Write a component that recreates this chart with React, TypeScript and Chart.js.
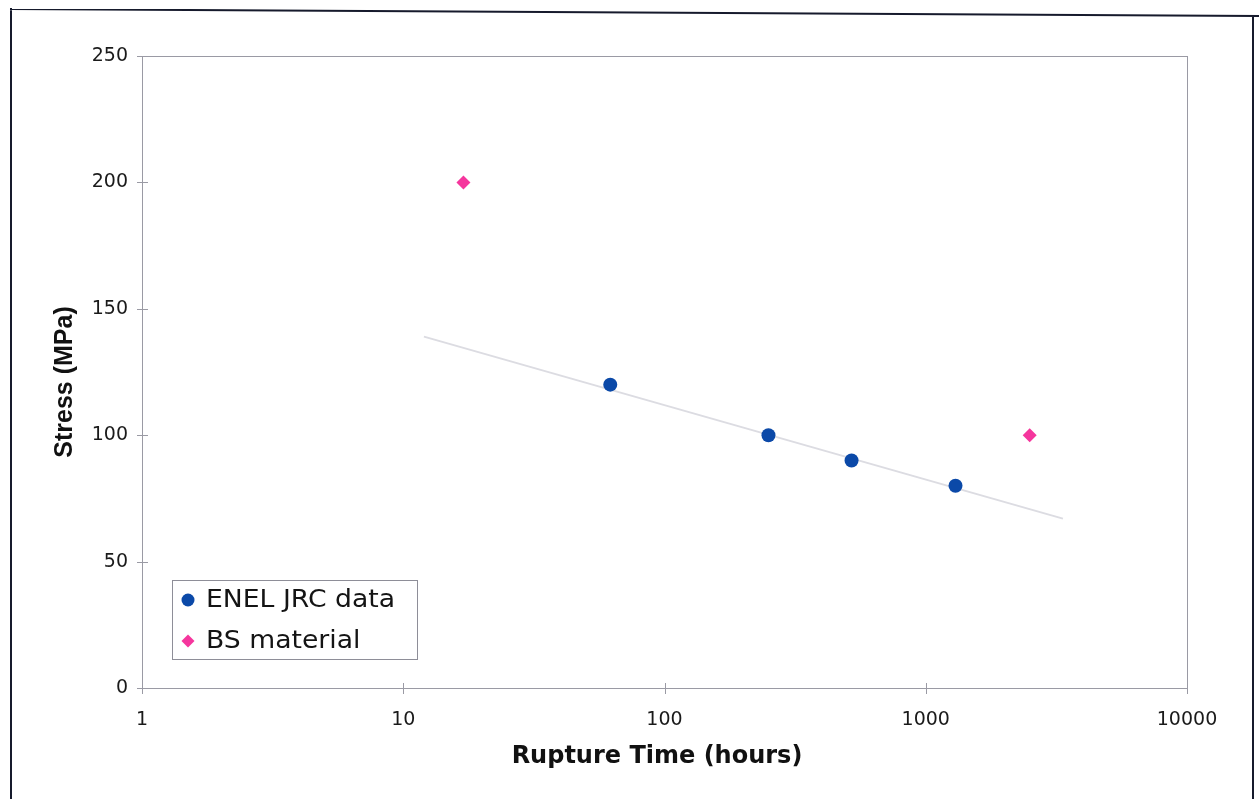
import React, { useEffect, useRef } from "react";
import { Chart, registerables } from "chart.js";

Chart.register(...registerables);

// ---- data ----
const xTickValues = [1, 10, 100, 1000, 10000];
const yTickValues = [0, 50, 100, 150, 200, 250];
const seriesNames = ["ENEL JRC data", "BS material"];
const enelTime = [62, 250, 520, 1300];
const enelStress = [120, 100, 90, 80];
const bsTime = [17, 2500];
const bsStress = [200, 100];
const trendTime = [12, 3350];
const trendStress = [139, 67];
const xTitle = "Rupture Time (hours)";
const yTitle = "Stress (MPa)";

const FONT = "'DejaVu Sans', 'Liberation Sans', sans-serif";
const ARIAL = "'Liberation Sans', Arial, sans-serif";
const BLUE = "#0b49a8";
const PINK = "#f5369d";
const AXIS = "#9a9aa4";

const toPoints = (xs: number[], ys: number[]) => xs.map((x, i) => ({ x, y: ys[i] }));

const framePlugin = {
  id: "framePlugin",
  afterDraw(chart: any) {
    const ctx = chart.ctx;
    const { left, right, top, bottom } = chart.chartArea;
    ctx.save();
    // plot border
    ctx.strokeStyle = AXIS;
    ctx.lineWidth = 1;
    ctx.strokeRect(left + 0.5, top + 0.5, right - left, bottom - top);
    // cross tick marks
    const xs = chart.scales.x;
    const ys = chart.scales.y;
    ctx.beginPath();
    xTickValues.forEach((v) => {
      const px = Math.round(xs.getPixelForValue(v)) + 0.5;
      ctx.moveTo(px, bottom - 5);
      ctx.lineTo(px, bottom + 6);
    });
    yTickValues.forEach((v) => {
      const py = Math.round(ys.getPixelForValue(v)) + 0.5;
      ctx.moveTo(left - 5, py);
      ctx.lineTo(left + 6, py);
    });
    ctx.stroke();

    // axis titles
    ctx.fillStyle = "#111111";
    ctx.textAlign = "center";
    ctx.textBaseline = "middle";
    ctx.font = `bold 24px ${FONT}`;
    ctx.fillText(xTitle, 657, 757);
    ctx.save();
    ctx.translate(65, 382);
    ctx.rotate(-Math.PI / 2);
    ctx.font = `bold 25px ${ARIAL}`;
    ctx.fillText(yTitle, 0, 0);
    ctx.restore();

    // legend box
    const lx = 172, ly = 580, lw = 245, lh = 79;
    ctx.fillStyle = "#ffffff";
    ctx.fillRect(lx, ly, lw, lh);
    ctx.strokeStyle = "#8e8e98";
    ctx.strokeRect(lx + 0.5, ly + 0.5, lw, lh);
    const rows = [600, 641];
    chart.data.datasets.slice(0, 2).forEach((ds: any, i: number) => {
      const cy = rows[i];
      const cx = 188;
      ctx.fillStyle = ds.backgroundColor;
      ctx.beginPath();
      if (ds.pointStyle === "rectRot") {
        const r = 6.5;
        ctx.moveTo(cx, cy - r);
        ctx.lineTo(cx + r, cy);
        ctx.lineTo(cx, cy + r);
        ctx.lineTo(cx - r, cy);
        ctx.closePath();
      } else {
        ctx.arc(cx, cy, 6.5, 0, Math.PI * 2);
      }
      ctx.fill();
      ctx.save();
      ctx.translate(206, cy + 1);
      ctx.scale(1.11, 1);
      ctx.fillStyle = "#141414";
      ctx.font = `24px ${FONT}`;
      ctx.textAlign = "left";
      ctx.textBaseline = "middle";
      ctx.fillText(ds.label, 0, 0);
      ctx.restore();
    });

    // outer frame
    ctx.strokeStyle = "#161a2c";
    ctx.lineWidth = 2;
    ctx.beginPath();
    ctx.moveTo(10, 9);
    ctx.lineTo(1259, 16);
    ctx.moveTo(11, 8);
    ctx.lineTo(11, 799);
    ctx.moveTo(1253, 15);
    ctx.lineTo(1253, 799);
    ctx.stroke();
    ctx.restore();
  },
};

const bgPlugin = {
  id: "bgPlugin",
  beforeDraw(chart: any) {
    const ctx = chart.ctx;
    ctx.save();
    ctx.fillStyle = "#ffffff";
    ctx.fillRect(0, 0, chart.width, chart.height);
    ctx.restore();
  },
};

export default function App() {
  const ref = useRef<HTMLCanvasElement | null>(null);

  useEffect(() => {
    if (!ref.current) return;
    const chart = new Chart(ref.current, {
      type: "scatter",
      data: {
        datasets: [
          {
            label: seriesNames[0],
            data: toPoints(enelTime, enelStress),
            backgroundColor: BLUE,
            borderColor: BLUE,
            pointStyle: "circle",
            pointRadius: 7,
            borderWidth: 0,
          },
          {
            label: seriesNames[1],
            data: toPoints(bsTime, bsStress),
            backgroundColor: PINK,
            borderColor: PINK,
            pointStyle: "rectRot",
            pointRadius: 7,
            borderWidth: 0,
          },
          {
            label: "trend",
            data: toPoints(trendTime, trendStress),
            showLine: true,
            borderColor: "#dcdce2",
            borderWidth: 2,
            pointRadius: 0,
            backgroundColor: "#dcdce2",
          },
        ],
      },
      options: {
        responsive: false,
        animation: false,
        layout: { padding: { left: 0, right: 72, top: 56, bottom: 0 } },
        plugins: {
          legend: { display: false },
          tooltip: { enabled: false },
        },
        scales: {
          x: {
            type: "logarithmic",
            min: 1,
            max: 10000,
            afterBuildTicks: (scale: any) => {
              scale.ticks = xTickValues.map((v) => ({ value: v }));
            },
            afterFit: (scale: any) => {
              scale.height = 111;
            },
            grid: { display: false, drawTicks: false },
            border: { display: false },
            ticks: {
              autoSkip: false,
              maxRotation: 0,
              padding: 21,
              color: "#1a1a1a",
              font: { family: FONT, size: 19 },
              callback: (v: any) => String(v),
            },
            title: { display: false },
          },
          y: {
            min: 0,
            max: 250,
            afterBuildTicks: (scale: any) => {
              scale.ticks = yTickValues.map((v) => ({ value: v }));
            },
            afterFit: (scale: any) => {
              scale.width = 142;
            },
            grid: { display: false, drawTicks: false },
            border: { display: false },
            ticks: {
              padding: 14,
              color: "#1a1a1a",
              font: { family: FONT, size: 19 },
              callback: (v: any) => String(v),
            },
            title: { display: false },
          },
        },
      },
      plugins: [bgPlugin, framePlugin],
    } as any);
    return () => chart.destroy();
  }, []);

  return (
    <canvas
      ref={ref}
      width={1259}
      height={799}
      style={{ position: "fixed", left: 0, top: 0, width: 1259, height: 799, display: "block" }}
    />
  );
}
